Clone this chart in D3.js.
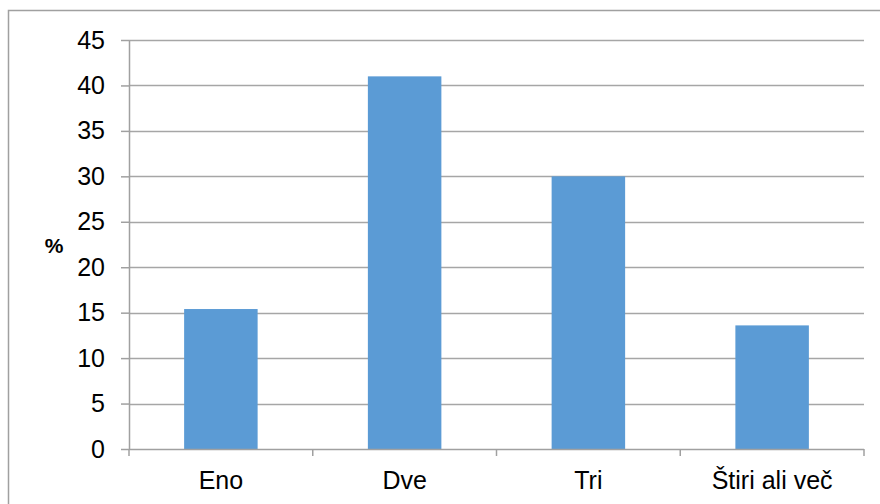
<!DOCTYPE html>
<html>
<head>
<meta charset="utf-8">
<script src="https://cdn.jsdelivr.net/npm/d3@7"></script>
<style>
  body { margin: 0; background: #fff; }
  svg { display: block; font-family: "Liberation Sans", Arial, sans-serif; }
</style>
</head>
<body>
<div class="chart"></div>
<script>
const categories = ['Eno', 'Dve', 'Tri', 'Štiri ali več'];
const values = [15.4, 41.0, 30.0, 13.6];
const yTicks = [0, 5, 10, 15, 20, 25, 30, 35, 40, 45];
const yLabel = '%';

const width = 880,
  height = 504,
  margin = { top: 40, right: 16, bottom: 55, left: 129 },
  innerWidth = width - margin.left - margin.right,
  innerHeight = height - margin.top - margin.bottom;

const svg = d3.select('.chart')
  .append('svg')
  .attr('width', width)
  .attr('height', height);

// outer frame
svg.append('rect')
  .attr('x', 8.5)
  .attr('y', 10.5)
  .attr('width', width + 10)
  .attr('height', height + 10)
  .attr('fill', 'none')
  .attr('stroke', '#a0a0a0')
  .attr('stroke-width', 1.5);

const g = svg.append('g')
  .attr('transform', `translate(${margin.left}, ${margin.top})`);

const x = d3.scaleBand()
  .domain(categories)
  .range([0, innerWidth])
  .paddingInner(0.6)
  .paddingOuter(0.3);

const xEdge = d3.scaleLinear()
  .domain([0, categories.length])
  .range([0, innerWidth]);

const y = d3.scaleLinear()
  .domain([0, 45])
  .range([innerHeight, 0]);

// gridlines
g.append('g')
  .selectAll('line')
  .data(yTicks.slice(1))
  .enter()
  .append('line')
  .attr('x1', 0)
  .attr('x2', innerWidth)
  .attr('y1', d => Math.round(y(d)) + 0.5)
  .attr('y2', d => Math.round(y(d)) + 0.5)
  .attr('stroke', '#a6a6a6')
  .attr('stroke-width', 1.5);

// bars
g.append('g')
  .selectAll('rect')
  .data(values)
  .enter()
  .append('rect')
  .attr('x', (d, i) => x(categories[i]))
  .attr('width', x.bandwidth())
  .attr('y', d => y(d))
  .attr('height', d => innerHeight - y(d))
  .attr('fill', '#5b9bd5');

// y axis
const yAxis = g.append('g')
  .call(d3.axisLeft(y).tickValues(yTicks).tickSize(8).tickPadding(16).tickSizeOuter(0));
yAxis.select('.domain').attr('stroke', '#a0a0a0').attr('stroke-width', 1.5);
yAxis.selectAll('.tick line').attr('stroke', '#a0a0a0').attr('stroke-width', 1.5);
yAxis.selectAll('.tick text')
  .attr('font-size', 25)
  .attr('font-family', '"Liberation Sans", Arial, sans-serif')
  .attr('fill', '#000');

// x axis
const xAxisG = g.append('g')
  .attr('transform', `translate(0, ${innerHeight})`);
xAxisG.append('line')
  .attr('x1', 0)
  .attr('x2', innerWidth)
  .attr('y1', 0.5)
  .attr('y2', 0.5)
  .attr('stroke', '#a0a0a0')
  .attr('stroke-width', 1.5);
xAxisG.selectAll('line.tk')
  .data(d3.range(categories.length + 1))
  .enter()
  .append('line')
  .attr('class', 'tk')
  .attr('x1', d => xEdge(d))
  .attr('x2', d => xEdge(d))
  .attr('y1', 0)
  .attr('y2', 7)
  .attr('stroke', '#a0a0a0')
  .attr('stroke-width', 1.5);
xAxisG.selectAll('text')
  .data(categories)
  .enter()
  .append('text')
  .attr('x', d => x(d) + x.bandwidth() / 2)
  .attr('y', 40)
  .attr('text-anchor', 'middle')
  .attr('font-size', 25)
  .attr('fill', '#000')
  .text(d => d);

// axis title
svg.append('text')
  .attr('x', 54)
  .attr('y', 253)
  .attr('text-anchor', 'middle')
  .attr('font-size', 21)
  .attr('font-weight', 'bold')
  .text(yLabel);
</script>
</body>
</html>
